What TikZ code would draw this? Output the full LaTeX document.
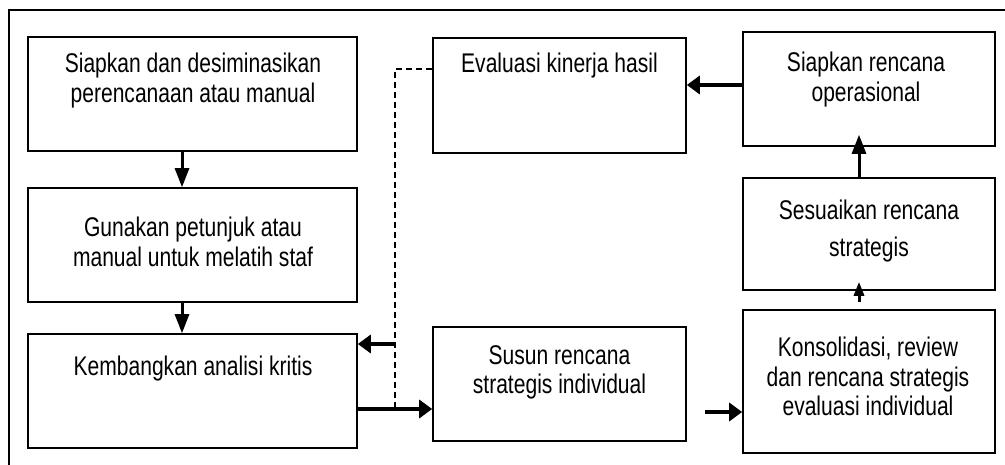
\documentclass[tikz,border=0pt]{standalone}
\usepackage{fontspec}
\setmainfont{Liberation Sans}[FakeStretch=0.78]
\usetikzlibrary{arrows.meta}

\begin{document}
\begin{tikzpicture}[x=1pt,y=-1pt]
    \tikzstyle{box}=[draw, line width=1.6pt, shape=rectangle, inner sep=0pt]
    \tikzstyle{boxtext}=[inner sep=0pt, align=center, anchor=north, font=\fontsize{27}{29.5}\selectfont]
    \tikzstyle{arrow}=[-{Triangle[length=13pt,width=18pt]}, line width=3.8pt]
    \tikzstyle{down arrow}=[-{Triangle[length=19pt,width=14pt]}, line width=3pt]
    \tikzstyle{small arrow}=[-{Triangle[length=14pt,width=10pt]}, line width=3pt]
    \tikzstyle{feedback}=[line width=2pt, dash pattern=on 6pt off 4pt]
    \useasboundingbox (0,0) rectangle (1005,465);
    \draw [line width=1.8pt] (1005,10) -- (9,10) -- (9,465);

    % left column
    \node [style=box, minimum width=329pt, minimum height=114pt] (prep) at (192.5, 94) {};
    \node [style=box, minimum width=329pt, minimum height=114pt] (train) at (192.5, 245) {};
    \node [style=box, minimum width=329pt, minimum height=114pt] (analyse) at (192.5, 391) {};
    % middle column
    \node [style=box, minimum width=253pt, minimum height=115pt] (evalb) at (559.5, 95.5) {};
    \node [style=box, minimum width=253pt, minimum height=114pt] (susun) at (559.5, 384) {};
    % right column
    \node [style=box, minimum width=252pt, minimum height=114pt] (oper) at (869, 89) {};
    \node [style=box, minimum width=252pt, minimum height=112pt] (adjust) at (869, 234) {};
    \node [style=box, minimum width=252pt, minimum height=143pt] (consol) at (869, 381.5) {};

    \node [style=boxtext] (prep-t) at (193, 53) {Siapkan dan desiminasikan\\perencanaan atau manual};
    \node [style=boxtext] (train-t) at (193, 217) {Gunakan petunjuk atau\\manual untuk melatih staf};
    \node [style=boxtext] (analyse-t) at (193, 356) {Kembangkan analisi kritis};
    \node [style=boxtext] (evalb-t) at (559.5, 53) {Evaluasi kinerja hasil};
    \node [style=boxtext] (susun-t) at (559.5, 345) {Susun rencana\\strategis individual};
    \node [style=boxtext] (oper-t) at (866, 52) {Siapkan rencana\\operasional};
    \node [style=boxtext] (adjust-t) at (869, 200) {Sesuaikan rencana\\[7pt]strategis};
    \node [style=boxtext] (consol-t) at (868, 337) {Konsolidasi, review\\dan rencana strategis\\evaluasi individual};

    \coordinate (bend) at (395, 69);
    \coordinate (fork) at (395, 344);
    \coordinate (dashend) at (395, 411);

    \draw [style=down arrow] (182,0 |- prep.south) to (182,0 |- train.north);
    \draw [style=down arrow] (182,0 |- train.south) to (182,0 |- analyse.north);
    \draw [style=arrow] (oper.west |- 0,85) to (evalb.east |- 0,85);
    \draw [style=down arrow, shorten >=-12pt] (859,0 |- adjust.north) to (859,0 |- oper.south);
    \draw [style=small arrow, shorten <=7pt, shorten >=-9pt] (859,0 |- consol.north) to (859,0 |- adjust.south);
    \draw [style=arrow, shorten <=18pt] (susun.east |- 0,412) to (consol.west |- 0,412);
    \draw [style=arrow] (analyse.east |- 0,409) to (susun.west |- 0,409);
    \draw [style=feedback] (evalb.west |- bend) -- (bend) -- (dashend);
    \draw [style=arrow] (fork) to (analyse.east |- fork);
\end{tikzpicture}
\end{document}
